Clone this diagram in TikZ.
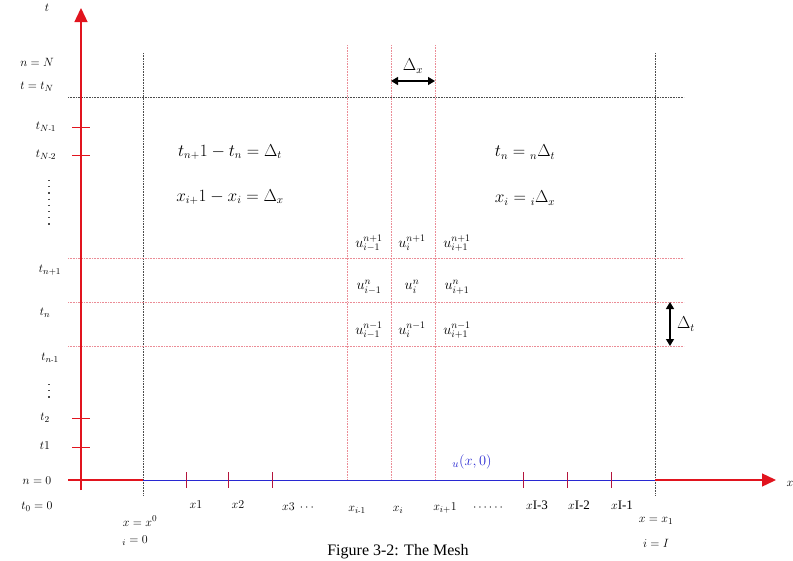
\documentclass[tikz,border=0pt]{standalone}
\usepackage{fontspec}
\setmainfont{Liberation Serif}
\usetikzlibrary{arrows.meta}
\definecolor{axred}{RGB}{225,20,30}
\definecolor{tickred}{RGB}{180,20,60}
\definecolor{gridred}{RGB}{235,140,150}
\definecolor{ublue}{RGB}{40,40,210}
\tikzset{
  axis/.style={axred, line width=1.4pt},
  axtip/.style={-{Triangle[length=14pt,width=13pt]}},
  tck/.style={axred, line width=0.9pt},
  xtck/.style={tickred, line width=0.9pt},
  blackgrid/.style={black!70, densely dotted, line width=0.6pt},
  redgrid/.style={gridred, densely dotted, line width=0.6pt},
  vdots/.style={black!70, line width=1.2pt, dash pattern=on 1.2pt off 5pt},
  lbl/.style={font=\fontsize{13}{15}\selectfont, inner sep=1pt},
  uval/.style={font=\fontsize{14}{16}\selectfont, inner sep=0pt},
  big/.style={font=\fontsize{16}{18}\selectfont, inner sep=1pt},
  dim/.style={{Triangle[length=7pt,width=8pt]}-{Triangle[length=7pt,width=8pt]}, line width=1.2pt}
}
\begin{document}
\begin{tikzpicture}[x=1pt,y=-1pt]
\useasboundingbox (0,0) rectangle (793,560);
% grid
\draw[blackgrid] (143,53) -- (143,495);
\draw[blackgrid] (655,53) -- (655,495);
\draw[blackgrid] (68,97) -- (684,97);
\foreach \xx in {347,391,435} \draw[redgrid] (\xx,45) -- (\xx,480);
\foreach \yy in {258,302,346} \draw[redgrid] (68,\yy) -- (684,\yy);
% axes
\coordinate (O) at (81,480);
\coordinate (tbot) at (81,490);
\coordinate (ttop) at (81,8);
\coordinate (xl) at (68,480);
\coordinate (xa) at (143,480);
\coordinate (xb) at (655,480);
\coordinate (xr) at (776,480);
\draw[axis] (xl) -- (xa);
\draw[ublue, line width=1pt] (xa) -- (xb);
\draw[axis, axtip] (xb) -- (xr);
\draw[axis, axtip] (tbot) -- (ttop);
% t ticks
\foreach \yy in {127,155,418,447} \draw[tck] (72,\yy) -- (90,\yy);
% x ticks
\foreach \xx in {186,228,272,523,567,611} \draw[xtck] (\xx,472) -- (\xx,488);
% vertical dots
\coordinate (vd1a) at (49,180);
\coordinate (vd1b) at (49,226);
\draw[vdots] (vd1a) -- (vd1b);
\coordinate (vd2a) at (49,384);
\coordinate (vd2b) at (49,400);
\draw[vdots] (vd2a) -- (vd2b);
% t labels
\node[lbl] (tlab) at (47,8) {$t$};
\node[lbl] (nN) at (37,62) {$n = N$};
\node[lbl] (tN) at (37,87) {$t = t_N$};
\node[lbl] (tN1) at (46,127) {$t_{N\mbox{\scriptsize -}1}$};
\node[lbl] (tN2) at (46,155) {$t_{N\mbox{\scriptsize -}2}$};
\node[lbl] (tn1) at (50,270) {$t_{n+1}$};
\node[lbl] (tn) at (45,313) {$t_n$};
\node[lbl] (tnm1) at (50,358) {$t_{n\mbox{\scriptsize -}1}$};
\node[lbl] (t2) at (45,418) {$t_2$};
\node[lbl] (t1) at (45,446) {$t1$};
\node[lbl] (n0) at (37,481) {$n = 0$};
\node[lbl] (t00) at (37,507) {$t_0 = 0$};
% x labels
\node[lbl] (xx0) at (140,521) {$x = x^0$};
\node[lbl] (i0) at (135,541) {$_i = 0$};
\node[lbl] (x1) at (196,505) {$x1$};
\node[lbl] (x2) at (238,505) {$x2$};
\node[lbl] (x3) at (298,507) {$x3\ \cdots$};
\node[lbl] (xim1) at (357,510) {$x_{i\mbox{\scriptsize -}1}$};
\node[lbl] (xi) at (398,510) {$x_i$};
\node[lbl] (xip1) at (445,508) {$x_{i+}1$};
\node[lbl] (dots) at (488,508) {$\cdots\cdots$};
\node[lbl] (xI3) at (537,505) {$x$I-3};
\node[lbl] (xI2) at (579,505) {$x$I-2};
\node[lbl] (xI1) at (622,505) {$x$I-1};
\node[lbl] (xx1) at (656,521) {$x = x_1$};
\node[lbl] (iI) at (656,543) {$i = I$};
\node[lbl] (xlab) at (790,484) {$x$};
\node[lbl, text=ublue, font=\fontsize{15}{17}\selectfont] (u0) at (472,462) {$_u(x,0)$};
\node[lbl, font=\fontsize{16}{18}\selectfont] (cap) at (398,552) {Figure 3-2: The Mesh};
% equations
\node[big] (eq1) at (230,152) {$t_{n+}1 - t_n = \Delta_t$};
\node[big] (eq2) at (230,197) {$x_{i+}1 - x_i = \Delta_x$};
\node[big] (eq3) at (525,152) {$t_n = {}_n\Delta_t$};
\node[big] (eq4) at (525,198) {$x_i = {}_i\Delta_x$};
% u values
\node[uval] (u11) at (369,243) {$u_{i-1}^{n+1}$};
\node[uval] (u12) at (412,243) {$u_{i}^{n+1}$};
\node[uval] (u13) at (457,243) {$u_{i+1}^{n+1}$};
\node[uval] (u21) at (369,287) {$u_{i-1}^{n}$};
\node[uval] (u22) at (412,287) {$u_{i}^{n}$};
\node[uval] (u23) at (457,287) {$u_{i+1}^{n}$};
\node[uval] (u31) at (369,330) {$u_{i-1}^{n-1}$};
\node[uval] (u32) at (412,330) {$u_{i}^{n-1}$};
\node[uval] (u33) at (457,330) {$u_{i+1}^{n-1}$};
% dimension arrows
\coordinate (dxa) at (391,81);
\coordinate (dxb) at (435,81);
\draw[dim] (dxa) -- (dxb);
\node[big] (dxl) at (413,66) {$\Delta_x$};
\coordinate (dta) at (670,302);
\coordinate (dtb) at (670,346);
\draw[dim] (dta) -- (dtb);
\node[big] (dtl) at (686,324) {$\Delta_t$};
\end{tikzpicture}
\end{document}
